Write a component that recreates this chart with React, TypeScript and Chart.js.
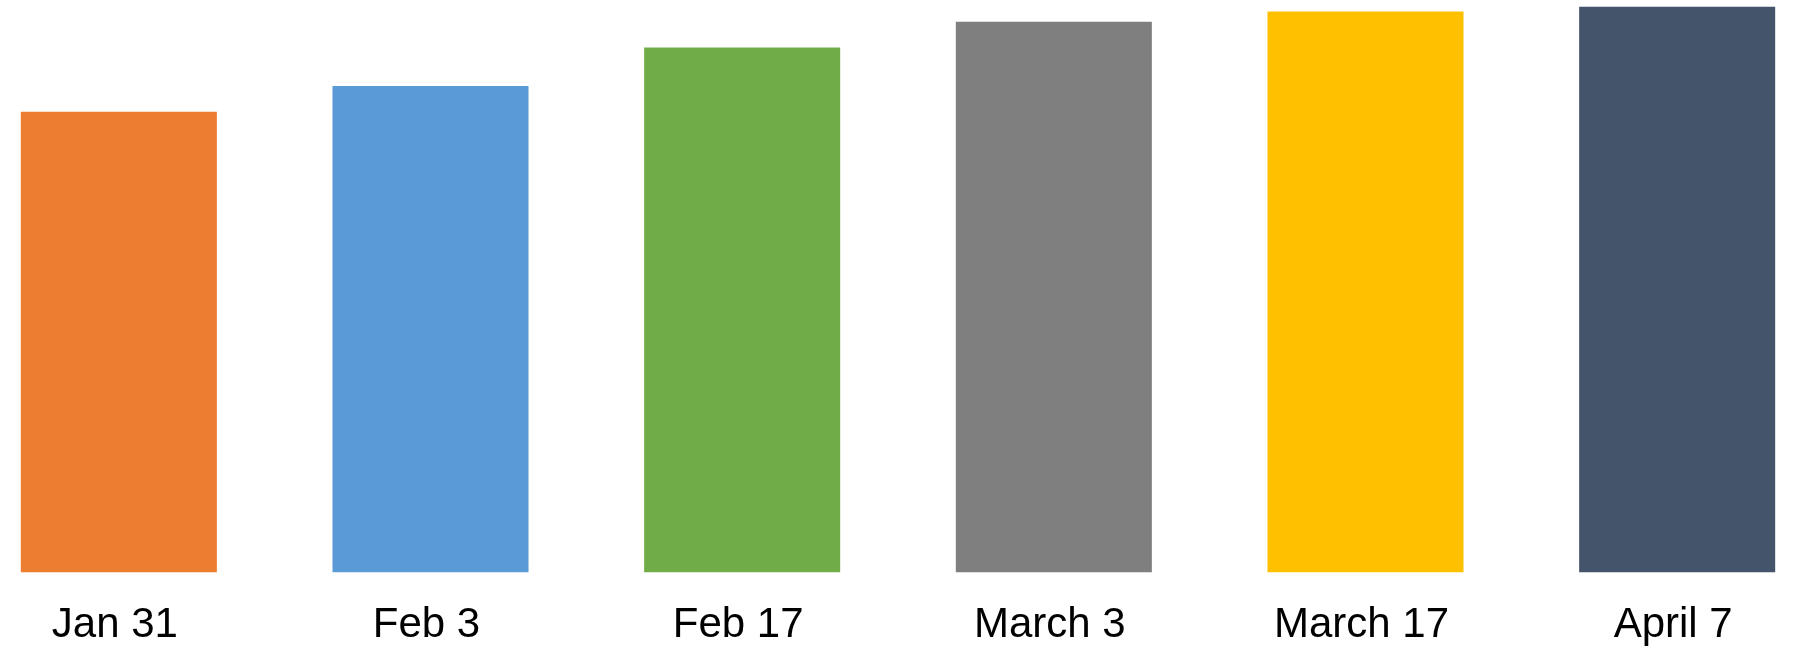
import React, { useEffect, useRef } from "react";
import { Chart, registerables } from "chart.js";

Chart.register(...registerables);

const categories: string[] = ["Jan 31", "Feb 3", "Feb 17", "March 3", "March 17", "April 7"];
const values: number[] = [80.5, 85.0, 91.7, 96.2, 98.0, 98.8];
const barColors: string[] = ["#ED7D31", "#5B9BD5", "#70AD47", "#7F7F7F", "#FFC000", "#44546A"];
const yMin = 0;
const yMax = 100;

export default function App() {
  const canvasRef = useRef<HTMLCanvasElement | null>(null);

  useEffect(() => {
    if (!canvasRef.current) return;
    const chart = new Chart(canvasRef.current, {
      type: "bar",
      data: {
        labels: categories,
        datasets: [
          {
            data: values,
            backgroundColor: barColors,
            borderWidth: 0,
            categoryPercentage: 1,
            barPercentage: 0.629,
          },
        ],
      },
      options: {
        animation: false,
        responsive: true,
        maintainAspectRatio: false,
        layout: { padding: 0 },
        plugins: {
          legend: { display: false },
          tooltip: { enabled: false },
          title: { display: false },
        },
        scales: {
          x: {
            grid: { display: false, drawTicks: false },
            border: { display: false },
            ticks: {
              color: "#000000",
              font: { family: "'Liberation Sans', Arial, sans-serif", size: 42 },
              padding: 28,
              labelOffset: -4,
              maxRotation: 0,
              autoSkip: false,
            },
          },
          y: {
            display: false,
            min: yMin,
            max: yMax,
          },
        },
      },
    });
    return () => chart.destroy();
  }, []);

  return (
    <div
      style={{
        position: "fixed",
        left: 0,
        top: 0,
        width: 1819,
        height: 649,
        overflow: "hidden",
        background: "#ffffff",
      }}
    >
      <div style={{ position: "absolute", left: -37, top: 0, width: 1870, height: 679 }}>
        <canvas ref={canvasRef} />
      </div>
    </div>
  );
}
